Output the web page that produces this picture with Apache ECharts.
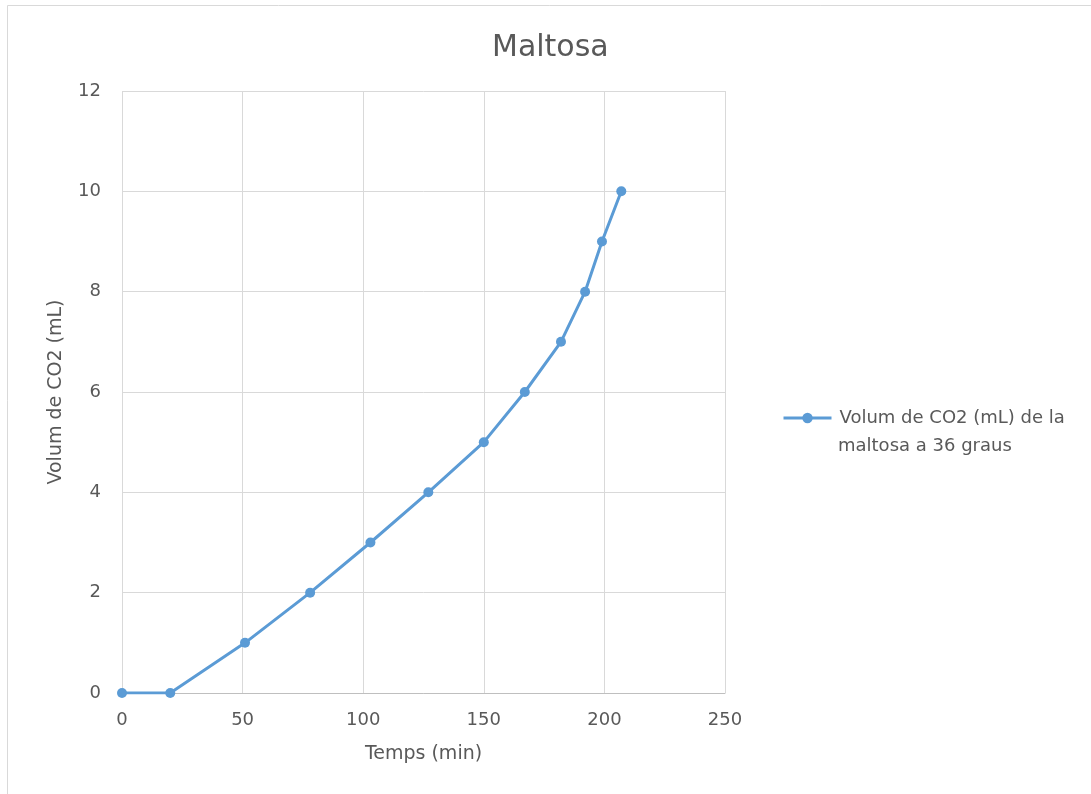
<!DOCTYPE html>
<html>
<head>
<meta charset="utf-8">
<script src="https://cdn.jsdelivr.net/npm/echarts@6/dist/echarts.min.js"></script>
<style>
html,body{margin:0;padding:0;background:#fff;}
#chart{width:1091px;height:794px;}
</style>
</head>
<body>
<div id="chart"></div>
<script>
// Time (min) and CO2 volume (mL) readings
const tempsMin = [0, 20, 51, 78, 103, 127, 150, 167, 182, 192, 199, 207];
const volumCO2 = [0, 0, 1, 2, 3, 4, 5, 6, 7, 8, 9, 10];
const legendLines = ['Volum de CO2 (mL) de la', 'maltosa a 36 graus'];
const seriesName = legendLines.join(' ');
const xTicks = [0, 50, 100, 150, 200, 250];
const yTicks = [0, 2, 4, 6, 8, 10, 12];

const points = tempsMin.map((t, i) => [t, volumCO2[i]]);
const textColor = '#595959';
const font = '"DejaVu Sans", sans-serif';

const chart = echarts.init(document.getElementById('chart'), null, {renderer: 'canvas'});
chart.setOption({
  backgroundColor: '#fff',
  animation: false,
  graphic: [{
    type: 'rect',
    shape: {x: 7.5, y: 5.5, width: 1100, height: 800},
    style: {fill: 'none', stroke: '#d9d9d9', lineWidth: 1},
    silent: true
  }, {
    // second line of the legend entry
    type: 'text',
    left: 838,
    top: 437,
    style: {text: legendLines[1], fill: textColor, font: '18px ' + font},
    silent: true
  }],
  title: {
    text: 'Maltosa',
    left: 487,
    top: 28,
    textStyle: {color: textColor, fontSize: 30, fontWeight: 'normal', fontFamily: font}
  },
  legend: {
    orient: 'vertical',
    left: 782,
    top: 409,
    padding: 0,
    itemWidth: 48,
    itemHeight: 13,
    lineStyle: {width: 3},
    formatter: () => legendLines[0],
    textStyle: {color: textColor, fontSize: 18, fontFamily: font, padding: [0, 0, 0, 3]}
  },
  grid: {left: 122, right: 366, top: 91, bottom: 101, containLabel: false},
  xAxis: {
    type: 'value',
    min: xTicks[0],
    max: xTicks[xTicks.length - 1],
    interval: 50,
    name: 'Temps (min)',
    nameLocation: 'middle',
    nameGap: 52,
    nameTextStyle: {color: textColor, fontSize: 19, fontFamily: font},
    axisLine: {show: true, lineStyle: {color: '#bfbfbf'}},
    axisTick: {show: false},
    axisLabel: {color: textColor, fontSize: 18, fontFamily: font, margin: 18},
    splitLine: {show: true, lineStyle: {color: '#d9d9d9'}}
  },
  yAxis: {
    type: 'value',
    min: yTicks[0],
    max: yTicks[yTicks.length - 1],
    interval: 2,
    name: 'Volum de CO2 (mL)',
    nameLocation: 'middle',
    nameGap: 56,
    nameTextStyle: {color: textColor, fontSize: 19, fontFamily: font},
    axisLine: {show: false},
    axisTick: {show: false},
    axisLabel: {color: textColor, fontSize: 18, fontFamily: font, margin: 21},
    splitLine: {show: true, lineStyle: {color: '#d9d9d9'}}
  },
  series: [{
    name: seriesName,
    type: 'line',
    data: points,
    symbol: 'circle',
    symbolSize: 10,
    itemStyle: {color: '#5B9BD5'},
    lineStyle: {color: '#5B9BD5', width: 3}
  }]
});
</script>
</body>
</html>
